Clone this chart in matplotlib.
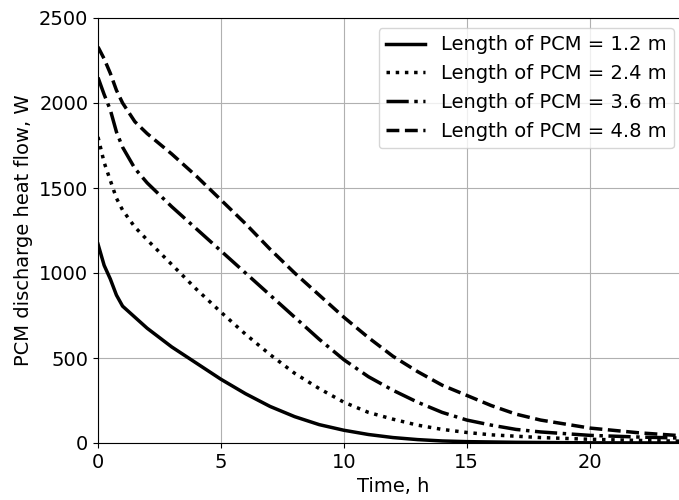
import matplotlib
matplotlib.use("Agg")
import matplotlib.pyplot as plt

t_solid = [0, 0.25, 0.5, 0.75, 1, 1.5, 2, 3, 4, 5, 6, 7, 8, 9, 10, 11, 12, 13, 14, 15, 17, 20, 24]
w_solid = [1170, 1045, 965, 870, 805, 740, 675, 565, 470, 375, 290, 215, 155, 108, 75, 50, 32, 20, 12, 8, 4, 1, 0]

t_dot = [0, 0.25, 0.5, 0.75, 1, 1.5, 2, 3, 4, 5, 6, 7, 8, 9, 10, 11, 12, 13, 14, 15, 16, 18, 20, 22, 24]
w_dot = [1800, 1650, 1545, 1440, 1370, 1270, 1195, 1050, 905, 770, 640, 520, 410, 320, 240, 180, 140, 105, 80, 62, 48, 32, 22, 15, 10]

t_dd = [0, 0.25, 0.5, 0.75, 1, 1.5, 2, 3, 4, 5, 6, 7, 8, 9, 10, 11, 12, 13, 14, 15, 16, 17, 18, 20, 22, 24]
w_dd = [2150, 2050, 1960, 1830, 1740, 1615, 1530, 1390, 1260, 1130, 1000, 870, 740, 610, 490, 390, 310, 240, 180, 135, 105, 80, 65, 45, 35, 28]

t_dash = [0, 0.25, 0.5, 0.75, 1, 1.5, 2, 3, 4, 5, 6, 7, 8, 9, 10, 11, 12, 13, 14, 15, 16, 17, 18, 20, 22, 24]
w_dash = [2330, 2260, 2175, 2075, 2000, 1890, 1820, 1700, 1570, 1430, 1290, 1140, 1000, 870, 740, 620, 510, 420, 340, 280, 220, 170, 135, 88, 60, 40]

labels = ["Length of PCM = 1.2 m", "Length of PCM = 2.4 m",
          "Length of PCM = 3.6 m", "Length of PCM = 4.8 m"]

fig = plt.figure(figsize=(6.79, 5.0), dpi=100)
ax = fig.add_axes([98/679, 57/500, 590/679, 425/500])
lw = 2.5
ax.plot(t_solid, w_solid, color="black", lw=lw, ls="-", label=labels[0])
ax.plot(t_dot, w_dot, color="black", lw=lw, ls=":", label=labels[1])
ax.plot(t_dd, w_dd, color="black", lw=lw, ls="-.", label=labels[2])
ax.plot(t_dash, w_dash, color="black", lw=lw, ls="--", label=labels[3])

ax.set_xlim(0, 24)
ax.set_ylim(0, 2500)
ax.set_xticks([0, 5, 10, 15, 20])
ax.set_yticks([0, 500, 1000, 1500, 2000, 2500])
ax.grid(True, color="#b0b0b0", lw=0.8)
ax.tick_params(labelsize=14)
ax.set_xlabel("Time, h", fontsize=14)
ax.set_ylabel("PCM discharge heat flow, W", fontsize=14)
ax.legend(loc="upper right", fontsize=14, bbox_to_anchor=(0.993, 1.0))
fig.savefig("out.png", dpi=100)
